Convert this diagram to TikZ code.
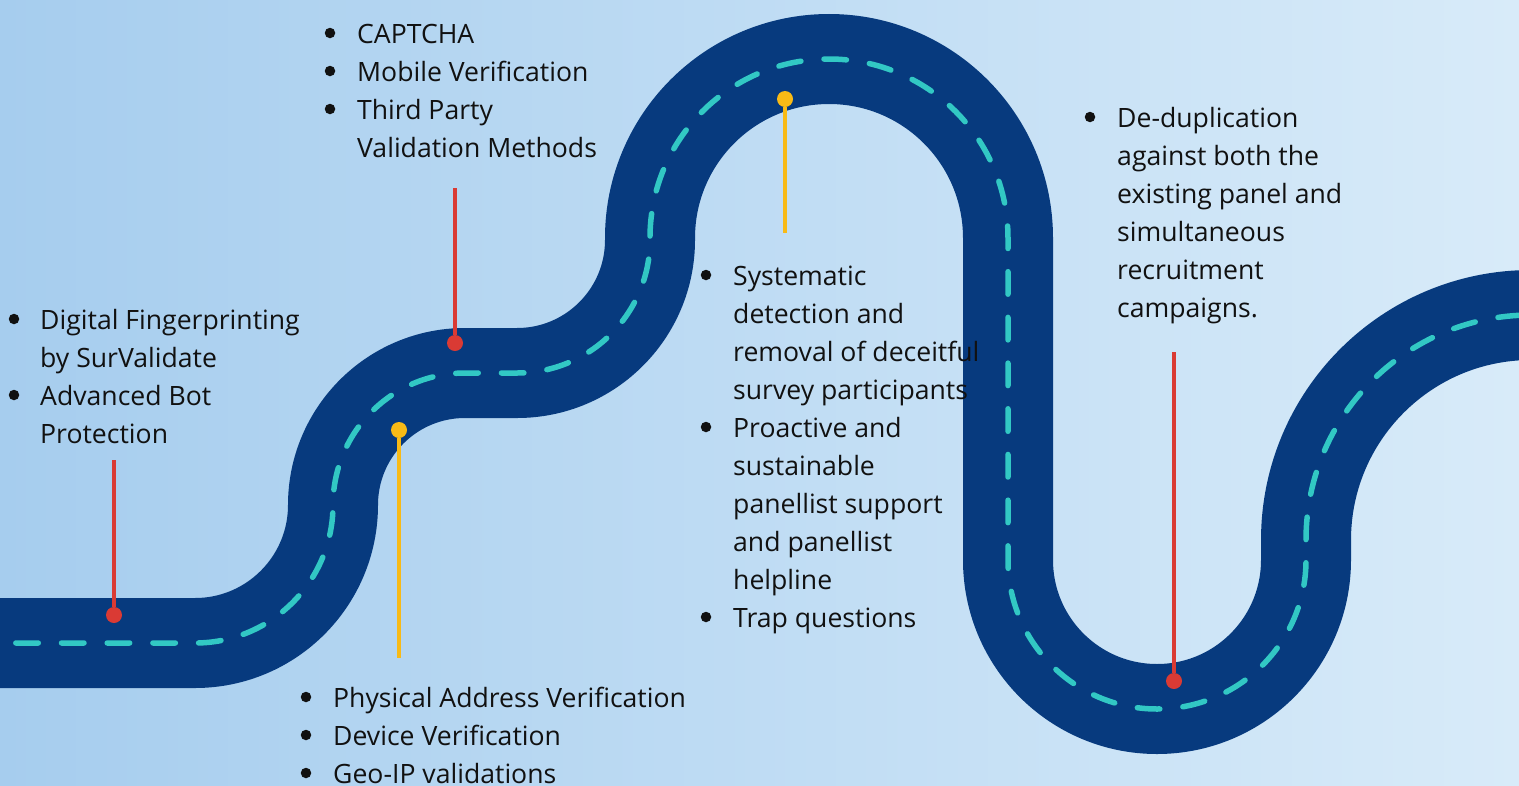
\documentclass[tikz,border=0pt]{standalone}
\usepackage{fontspec}
\setmainfont{Open Sans}
\definecolor{roadblue}{RGB}{7,58,126}
\definecolor{laneteal}{RGB}{50,200,196}
\definecolor{mkred}{RGB}{218,58,52}
\definecolor{mkyellow}{RGB}{248,186,22}
\definecolor{bgL}{RGB}{166,205,238}
\definecolor{bgM}{RGB}{205,228,247}
\definecolor{bgR}{RGB}{216,235,249}
\definecolor{txtcol}{RGB}{17,17,17}
\begin{document}
\begin{tikzpicture}[x=1pt,y=-1pt,
  road/.style={line width=90pt, draw=roadblue},
  lane/.style={line width=5.5pt, draw=laneteal, line cap=round, dash pattern=on 22.5pt off 23.2pt, dash phase=29.9pt},
  txt/.style={anchor=base west, inner sep=0pt, font=\fontsize{26.6}{38}\selectfont, text=txtcol},
  bul/.style={circle, fill=txtcol, inner sep=0pt, minimum size=10.5pt},
  redline/.style={draw=mkred, line width=4pt},
  yelline/.style={draw=mkyellow, line width=4pt},
  reddot/.style={circle, fill=mkred, inner sep=0pt, minimum size=16pt},
  yeldot/.style={circle, fill=mkyellow, inner sep=0pt, minimum size=16pt}
]
\useasboundingbox (0,0) rectangle (1519,785);
\clip (0,0) rectangle (1519,785);
\shade[left color=bgL, middle color=bgM, right color=bgR] (0,0) rectangle (1519,785);
% road
\def\roadpath{(-10,643) -- (195,643) arc[start angle=90,end angle=0,radius=138]
  arc[start angle=180,end angle=270,radius=132] -- (517,373)
  arc[start angle=90,end angle=0,radius=133] -- (650,238)
  arc[start angle=180,end angle=360,radius=179] -- (1008,560)
  arc[start angle=180,end angle=0,radius=149] -- (1306,540)
  arc[start angle=180,end angle=270,radius=225] -- (1560,315)}
\draw[road] \roadpath;
\draw[lane] (0,643) -- (195,643) arc[start angle=90,end angle=0,radius=138]
  arc[start angle=180,end angle=270,radius=132] -- (517,373)
  arc[start angle=90,end angle=0,radius=133] -- (650,238)
  arc[start angle=180,end angle=360,radius=179] -- (1008,560)
  arc[start angle=180,end angle=0,radius=149] -- (1306,540)
  arc[start angle=180,end angle=270,radius=225] -- (1560,315);
% markers
\node[reddot] (d1) at (114,615) {};
\coordinate (t1) at (114,460);
\draw[redline] (t1) -- (d1);
\node[reddot] (d2) at (455,343) {};
\coordinate (t2) at (455,188);
\draw[redline] (t2) -- (d2);
\node[yeldot] (d3) at (399,430) {};
\coordinate (t3) at (399,658);
\draw[yelline] (d3) -- (t3);
\node[yeldot] (d4) at (785,99) {};
\coordinate (t4) at (785,233);
\draw[yelline] (d4) -- (t4);
\node[reddot] (d5) at (1174,681) {};
\coordinate (t5) at (1174,352);
\draw[redline] (t5) -- (d5);
% block A
\node[bul] (ba1) at (14,319) {};
\node[txt] (a1) at (40,329) {Digital Fingerprinting};
\node[txt] (a2) at (40,367) {by SurValidate};
\node[bul] (ba2) at (14,395) {};
\node[txt] (a3) at (40,405) {Advanced Bot};
\node[txt] (a4) at (40,443) {Protection};
% block B
\node[bul] (bb1) at (330,33) {};
\node[txt] (b1) at (357,43) {CAPTCHA};
\node[bul] (bb2) at (330,71) {};
\node[txt] (b2) at (357,81) {Mobile Verification};
\node[bul] (bb3) at (330,109) {};
\node[txt] (b3) at (357,119) {Third Party};
\node[txt] (b4) at (357,157) {Validation Methods};
% block C
\node[bul] (bc1) at (706,275) {};
\node[txt] (c1) at (733,285) {Systematic};
\node[txt] (c2) at (733,323) {detection and};
\node[txt] (c3) at (733,361) {removal of deceitful};
\node[txt] (c4) at (733,399) {survey participants};
\node[bul] (bc2) at (706,427) {};
\node[txt] (c5) at (733,437) {Proactive and};
\node[txt] (c6) at (733,475) {sustainable};
\node[txt] (c7) at (733,513) {panellist support};
\node[txt] (c8) at (733,551) {and panellist};
\node[txt] (c9) at (733,589) {helpline};
\node[bul] (bc3) at (706,617) {};
\node[txt] (c10) at (733,627) {Trap questions};
% block D
\node[bul] (bd1) at (306,697) {};
\node[txt] (e1) at (333,707) {Physical Address Verification};
\node[bul] (bd2) at (306,735) {};
\node[txt] (e2) at (333,745) {Device Verification};
\node[bul] (bd3) at (306,773) {};
\node[txt] (e3) at (333,783) {Geo-IP validations};
% block E
\node[bul] (be1) at (1090,117) {};
\node[txt] (f1) at (1117,127) {De-duplication};
\node[txt] (f2) at (1117,165) {against both the};
\node[txt] (f3) at (1117,203) {existing panel and};
\node[txt] (f4) at (1117,241) {simultaneous};
\node[txt] (f5) at (1117,279) {recruitment};
\node[txt] (f6) at (1117,317) {campaigns.};
\end{tikzpicture}
\end{document}
